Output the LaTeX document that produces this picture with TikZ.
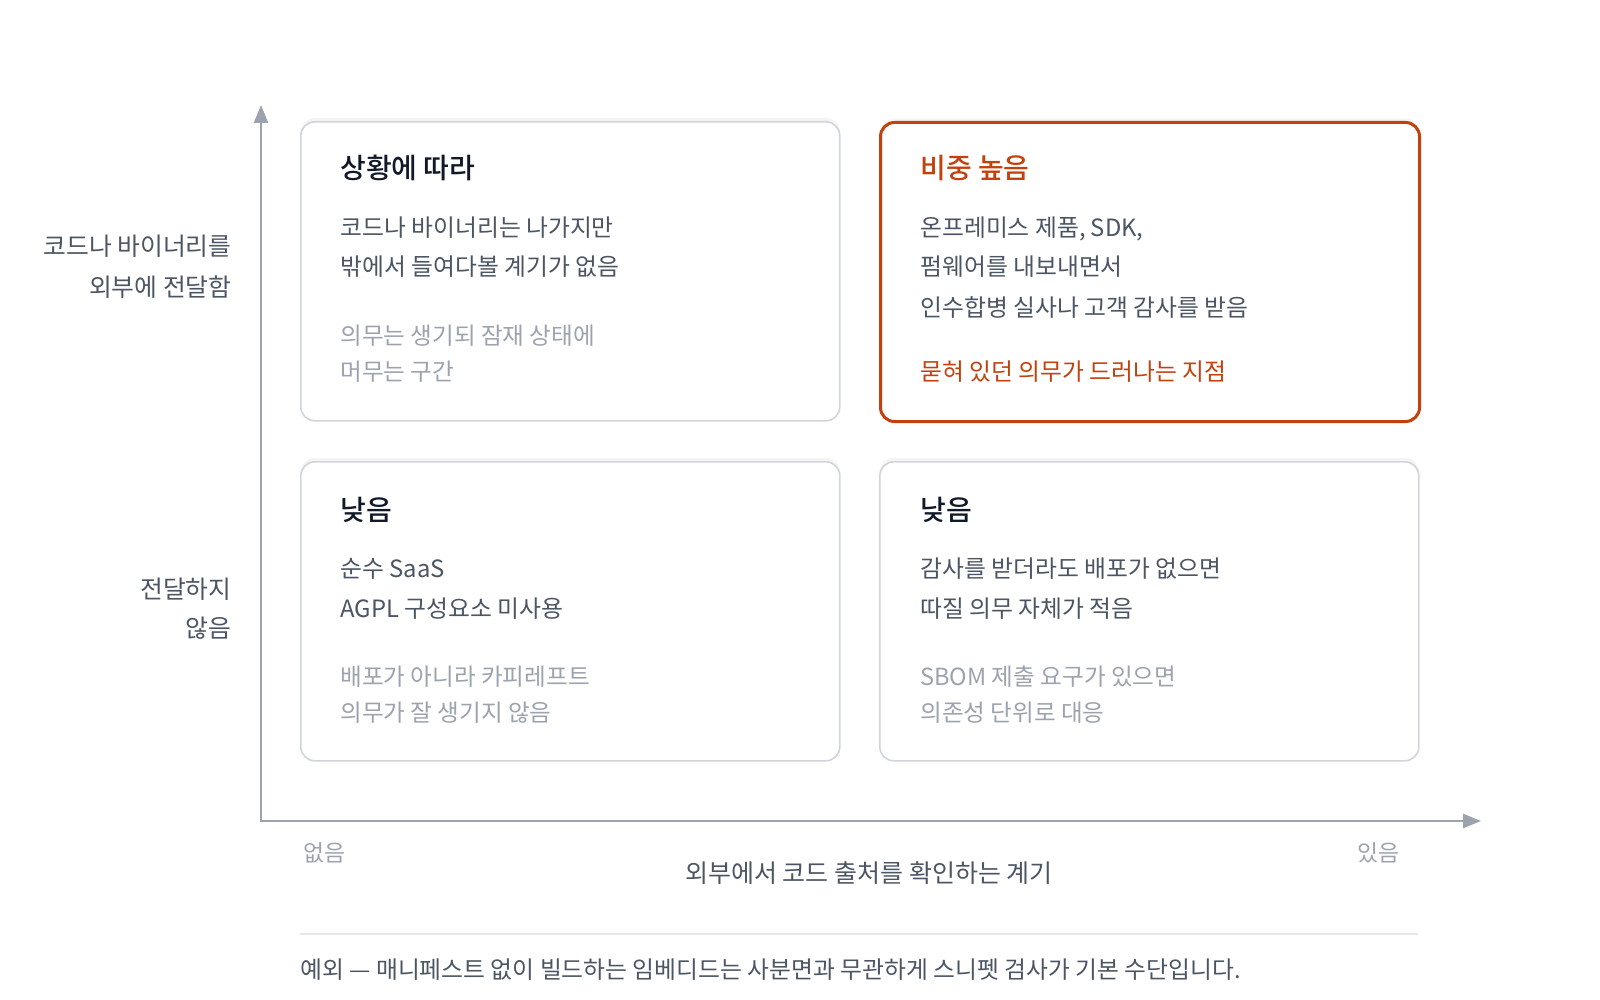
\documentclass[tikz,border=0pt]{standalone}
\usepackage{fontspec}
\setmainfont{Noto Sans CJK KR}[BoldFont={Noto Sans CJK KR Medium}]
\usepackage{tikz}
\usetikzlibrary{arrows.meta}
\usetikzlibrary{shadows}
\newcommand{\TikZscale}{0.5}
\newcommand{\px}{*\TikZscale pt}
\definecolor{ink}{HTML}{111827}
\definecolor{bodygray}{HTML}{4B5563}
\definecolor{mutedgray}{HTML}{9CA3AF}
\definecolor{axisgray}{HTML}{9CA3AF}
\definecolor{boxline}{HTML}{D1D5DB}
\definecolor{ruleline}{HTML}{E5E7EB}
\definecolor{hot}{HTML}{C2410C}
\tikzset{every picture/.style={>={Triangle[length=9pt, width=7pt]}}}
\tikzstyle{axisline}	= [draw=axisgray, line width=1.25pt]
\tikzstyle{qbox}		= [draw=boxline, line width=0.8pt, rounded corners=7pt, fill=white,
						   minimum width=539\px, minimum height=299\px, anchor=north west,
						   drop shadow={opacity=0.09, shadow xshift=0pt, shadow yshift=2pt}]
\tikzstyle{qhot}		= [qbox, draw=hot, line width=1.5pt]
\tikzstyle{qtitle}		= [anchor=base west, inner sep=0pt, text=ink, font=\fontsize{14}{16}\selectfont\bfseries]
\tikzstyle{qbody}		= [anchor=base west, inner sep=0pt, text=bodygray, font=\fontsize{11.9}{14}\selectfont]
\tikzstyle{qmuted}		= [qbody, text=mutedgray, font=\fontsize{11.8}{14}\selectfont]
\tikzstyle{qside}		= [anchor=base east, inner sep=0pt, text=bodygray, font=\fontsize{12.4}{14}\selectfont]

\begin{document}
\begin{tikzpicture}[yscale=-1]
	\useasboundingbox (0,0) rectangle (1600\px,1000\px);

	% Achsen
	\coordinate (origin) at (261\px,821\px);
	\coordinate (ytip) at (261\px,105\px);
	\coordinate (xtip) at (1481\px,821\px);
	\draw[axisline, <->] (ytip) -- (origin) -- (xtip);

	% Quadranten
	\node[qbox] (tl) at (300\px,121\px) {};
	\node[qhot] (tr) at (879\px,121\px) {};
	\node[qbox] (bl) at (300\px,461\px) {};
	\node[qbox] (br) at (879\px,461\px) {};

	% oben links
	\node[qtitle] (tl-title) at (340\px,179\px) {상황에 따라};
	\node[qbody] (tl-a) at (340\px,236\px) {코드나 바이너리는 나가지만};
	\node[qbody] (tl-b) at (340\px,276\px) {밖에서 들여다볼 계기가 없음};
	\node[qmuted] (tl-c) at (340\px,344\px) {의무는 생기되 잠재 상태에};
	\node[qmuted] (tl-d) at (340\px,380\px) {머무는 구간};

	% oben rechts
	\node[qtitle, text=hot] (tr-title) at (920\px,179\px) {비중 높음};
	\node[qbody] (tr-a) at (920\px,236\px) {온프레미스 제품, SDK,};
	\node[qbody] (tr-b) at (920\px,276\px) {펌웨어를 내보내면서};
	\node[qbody] (tr-c) at (920\px,316\px) {인수합병 실사나 고객 감사를 받음};
	\node[qbody, text=hot] (tr-d) at (920\px,380\px) {묻혀 있던 의무가 드러나는 지점};

	% unten links
	\node[qtitle] (bl-title) at (340\px,520\px) {낮음};
	\node[qbody] (bl-a) at (340\px,577\px) {순수 SaaS};
	\node[qbody] (bl-b) at (340\px,617\px) {AGPL 구성요소 미사용};
	\node[qmuted] (bl-c) at (340\px,685\px) {배포가 아니라 카피레프트};
	\node[qmuted] (bl-d) at (340\px,721\px) {의무가 잘 생기지 않음};

	% unten rechts
	\node[qtitle] (br-title) at (920\px,520\px) {낮음};
	\node[qbody] (br-a) at (920\px,577\px) {감사를 받더라도 배포가 없으면};
	\node[qbody] (br-b) at (920\px,617\px) {따질 의무 자체가 적음};
	\node[qmuted] (br-c) at (920\px,685\px) {SBOM 제출 요구가 있으면};
	\node[qmuted] (br-d) at (920\px,721\px) {의존성 단위로 대응};

	% Beschriftung y
	\node[qside] (y-hi-a) at (232\px,256\px) {코드나 바이너리를};
	\node[qside] (y-hi-b) at (232\px,296\px) {외부에 전달함};
	\node[qside] (y-lo-a) at (232\px,598\px) {전달하지};
	\node[qside] (y-lo-b) at (232\px,637\px) {않음};

	% Beschriftung x
	\node[qmuted, anchor=base, font=\fontsize{11.4}{13}\selectfont] (x-lo) at (324\px,861\px) {없음};
	\node[qmuted, anchor=base, font=\fontsize{11.4}{13}\selectfont] (x-hi) at (1378\px,861\px) {있음};
	\node[qbody, anchor=base, font=\fontsize{12.5}{14}\selectfont] (x-title) at (869\px,882\px) {외부에서 코드 출처를 확인하는 계기};

	% Fussnote
	\coordinate (rule-l) at (300\px,934\px);
	\coordinate (rule-r) at (1418\px,934\px);
	\draw[ruleline, line width=0.75pt] (rule-l) -- (rule-r);
	\node[qbody] (note) at (300\px,978\px) {예외 — 매니페스트 없이 빌드하는 임베디드는 사분면과 무관하게 스니펫 검사가 기본 수단입니다.};
\end{tikzpicture}
\end{document}
